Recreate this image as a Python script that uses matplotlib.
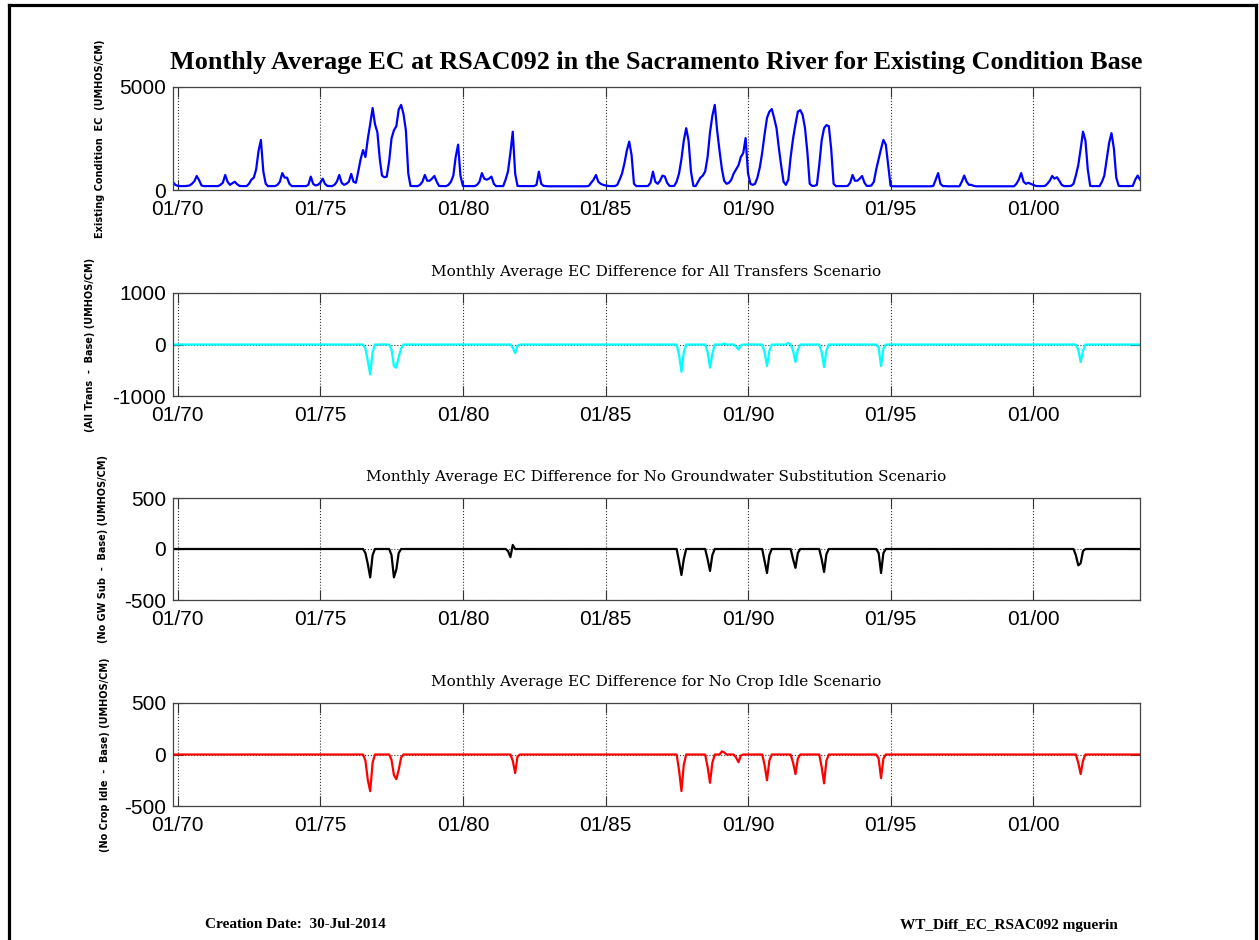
import numpy as np
import pandas as pd
import matplotlib
matplotlib.use("Agg")
import matplotlib.pyplot as plt
import matplotlib.dates as mdates
from matplotlib.lines import Line2D

plt.rcParams["axes.unicode_minus"] = False

# Monthly average EC (UMHOS/CM) at RSAC092, existing condition base.
# One row per water year (Oct .. Sep), WY1970 .. WY2003.
EC_BASE = [
    [380, 250, 200, 190, 190, 190, 200, 220, 300, 420, 680, 480],     # 1970
    [220, 190, 190, 190, 190, 190, 190, 190, 250, 350, 730, 400],     # 1971
    [250, 330, 400, 280, 200, 190, 190, 190, 300, 500, 600, 1000],    # 1972
    [1900, 2430, 900, 300, 190, 190, 190, 190, 250, 400, 820, 600],   # 1973
    [600, 300, 190, 190, 190, 190, 190, 190, 190, 250, 650, 300],     # 1974
    [220, 250, 350, 550, 300, 200, 190, 190, 250, 400, 730, 350],     # 1975
    [250, 300, 400, 780, 400, 350, 900, 1500, 1940, 1600, 2500, 3200],  # 1976
    [3980, 3200, 2800, 1500, 700, 620, 650, 1400, 2500, 2900, 3100, 3900],  # 1977
    [4130, 3700, 2900, 800, 200, 190, 190, 190, 250, 400, 730, 450],  # 1978
    [450, 550, 680, 400, 200, 190, 190, 190, 250, 400, 700, 1600],    # 1979
    [2200, 700, 200, 190, 190, 190, 190, 190, 250, 400, 820, 550],    # 1980
    [500, 550, 650, 300, 190, 190, 190, 190, 500, 900, 1800, 2830],   # 1981
    [800, 200, 190, 190, 190, 190, 190, 190, 190, 250, 890, 300],     # 1982
    [200, 190, 180, 180, 180, 180, 180, 180, 180, 180, 180, 180],     # 1983
    [180, 180, 180, 180, 180, 180, 180, 200, 350, 500, 730, 400],     # 1984
    [300, 250, 220, 200, 190, 190, 190, 250, 500, 800, 1300, 1900],   # 1985
    [2350, 1700, 300, 190, 190, 190, 190, 190, 200, 350, 890, 400],   # 1986
    [300, 450, 700, 650, 350, 200, 190, 200, 400, 800, 1500, 2400],   # 1987
    [3000, 2400, 900, 200, 190, 400, 600, 700, 900, 1600, 2800, 3600],  # 1988
    [4130, 2900, 1900, 1000, 450, 300, 350, 500, 800, 1000, 1200, 1600],  # 1989
    [1800, 2520, 800, 300, 250, 300, 600, 1100, 1800, 2700, 3500, 3800],  # 1990
    [3930, 3500, 3000, 2000, 1200, 400, 250, 500, 1600, 2500, 3200, 3800],  # 1991
    [3880, 3650, 3000, 1800, 300, 200, 200, 250, 1200, 2400, 3000, 3150],  # 1992
    [3100, 2000, 300, 190, 190, 190, 190, 190, 200, 350, 730, 450],   # 1993
    [450, 550, 680, 350, 200, 200, 220, 400, 1000, 1500, 2000, 2430],  # 1994
    [2200, 1200, 200, 180, 180, 180, 180, 180, 180, 180, 180, 180],   # 1995
    [180, 180, 180, 180, 180, 180, 180, 180, 200, 500, 820, 300],     # 1996
    [190, 190, 180, 180, 180, 180, 180, 180, 400, 700, 400, 250],     # 1997
    [250, 200, 180, 180, 180, 180, 180, 180, 180, 180, 180, 180],     # 1998
    [180, 180, 180, 180, 180, 180, 180, 300, 500, 820, 400, 300],     # 1999
    [350, 300, 250, 200, 190, 190, 190, 200, 300, 450, 680, 550],     # 2000
    [620, 450, 250, 190, 190, 190, 200, 300, 700, 1200, 2000, 2830],  # 2001
    [2400, 1000, 200, 190, 190, 190, 190, 400, 700, 1500, 2300, 2760],  # 2002
    [2000, 600, 200, 190, 190, 190, 190, 190, 200, 500, 700, 500],    # 2003
]

# Scenario minus base; zero except the months listed (first month -> values)
ALL_TRANS_DIFF = {
    "1976-07": [-80, -320, -580, -150],
    "1977-06": [-100, -420, -450, -250, -80],
    "1981-09": [-60, -170, -20],
    "1987-07": [-200, -530, -150],
    "1988-07": [-150, -450, -180],
    "1989-02": [20],
    "1989-07": [-40, -100, -20],
    "1990-07": [-150, -420, -120],
    "1991-05": [30],
    "1991-07": [-120, -340, -100],
    "1992-07": [-150, -440, -120],
    "1994-07": [-60, -420, -80],
    "2001-07": [-100, -340, -120],
}
NO_GW_SUB_DIFF = {
    "1976-07": [-40, -150, -278, -60],
    "1977-06": [-60, -278, -200, -40],
    "1981-07": [-20, -80, 40],
    "1987-07": [-120, -255, -100],
    "1988-07": [-100, -215, -60],
    "1990-07": [-120, -235, -60],
    "1991-07": [-100, -185, -40],
    "1992-07": [-100, -225, -50],
    "1994-07": [-40, -235, -40],
    "2001-06": [-60, -160, -140, -20],
}
NO_CROP_IDLE_DIFF = {
    "1976-07": [-60, -250, -356, -80],
    "1977-06": [-50, -200, -240, -150, -30],
    "1981-09": [-60, -180, -20],
    "1987-07": [-150, -355, -100],
    "1988-07": [-120, -275, -80],
    "1989-01": [30, 20],
    "1989-07": [-30, -75, -10],
    "1990-07": [-100, -250, -60],
    "1991-07": [-80, -190, -40],
    "1992-07": [-120, -280, -60],
    "1994-07": [-40, -230, -40],
    "2001-07": [-80, -190, -60],
}

W, H = 1259, 940
dates = pd.date_range("1969-10-31", periods=12 * len(EC_BASE), freq="ME")
base = np.concatenate([np.array(r, dtype=float) for r in EC_BASE])


def expand(diffs):
    s = pd.Series(0.0, index=dates.to_period("M"))
    for start, vals in diffs.items():
        p = pd.Period(start, "M")
        for i, v in enumerate(vals):
            s[p + i] = v
    return s.values


def rect(l, t, r, b):
    return [l / W, 1 - b / H, (r - l) / W, (b - t) / H]


panels = [
    (base, "#0000ff", (0, 5000), [0, 5000], (87, 190),
     "Existing Condition  EC  (UMHOS/CM)", 100, None),
    (expand(ALL_TRANS_DIFF), "#00ffff", (-1000, 1000), [-1000, 0, 1000], (293, 396),
     "(All Trans  -  Base) (UMHOS/CM)", 90,
     "Monthly Average EC Difference for All Transfers Scenario"),
    (expand(NO_GW_SUB_DIFF), "#000000", (-500, 500), [-500, 0, 500], (498, 600),
     "(No GW Sub  -  Base) (UMHOS/CM)", 103,
     "Monthly Average EC Difference for No Groundwater Substitution Scenario"),
    (expand(NO_CROP_IDLE_DIFF), "#ff0000", (-500, 500), [-500, 0, 500], (703, 806),
     "(No Crop Idle  -  Base) (UMHOS/CM)", 105,
     "Monthly Average EC Difference for No Crop Idle Scenario"),
]

fig = plt.figure(figsize=(W / 100, H / 100), dpi=100)

for vals, color, ylim, yticks, (top, bot), ylab, ylab_x, sub in panels:
    ax = fig.add_axes(rect(173, top, 1140, bot))
    ax.plot(dates, vals, color=color, lw=1.6)
    ax.set_xlim(dates[0], dates[-1])
    ax.set_ylim(*ylim)
    ax.set_yticks(yticks)
    ax.xaxis.set_major_locator(mdates.YearLocator(5, month=1, day=1))
    ax.xaxis.set_major_formatter(mdates.DateFormatter("%m/%y"))
    ax.tick_params(direction="in", length=7, width=0.8, top=True, right=True,
                   labelsize=15, color="#333333")
    ax.tick_params(axis="x", pad=7)
    ax.tick_params(axis="y", pad=5)
    for lab in ax.get_xticklabels() + ax.get_yticklabels():
        lab.set_family("Liberation Sans")
    ax.grid(True, linestyle=":", color="#333333", lw=0.8)
    for sp in ax.spines.values():
        sp.set_color("#444444")
        sp.set_linewidth(0.9)
    fig.text(ylab_x / W, 1 - (top + bot) / 2 / H, ylab, rotation=90,
             ha="center", va="center", fontsize=7, weight="bold",
             family="DejaVu Sans")
    if sub:
        fig.text(656 / W, 1 - (top - 21) / H, sub, ha="center", va="center",
                 fontsize=11, family="DejaVu Serif")

fig.text(656 / W, 1 - 62 / H,
         "Monthly Average EC at RSAC092 in the Sacramento River for Existing Condition Base",
         ha="center", va="center", fontsize=18.8, weight="bold", family="Liberation Serif")

fig.text(205 / W, 1 - 925 / H, "Creation Date:  30-Jul-2014", ha="left", va="center",
         fontsize=11, weight="bold", family="Liberation Serif")
fig.text(900 / W, 1 - 925 / H, "WT_Diff_EC_RSAC092 mguerin", ha="left", va="center",
         fontsize=11, weight="bold", family="Liberation Serif")

# page frame (left, top, right; open at the bottom)
for xs, ys in [([9, 9], [5, H]), ([9, 1256], [5, 5]), ([1256, 1256], [5, H])]:
    fig.add_artist(Line2D([x / W for x in xs], [1 - y / H for y in ys],
                          transform=fig.transFigure, color="black", lw=2.3))

fig.savefig("out.png", dpi=100)
